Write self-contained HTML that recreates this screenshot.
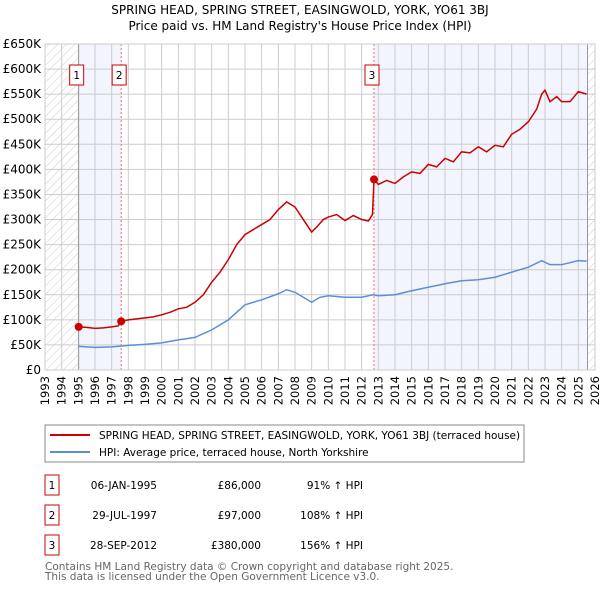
<!DOCTYPE html>
<html><head><meta charset="utf-8"><style>
body{margin:0;background:#fff;width:600px;height:590px;overflow:hidden;font-family:"DejaVu Sans","Liberation Sans",sans-serif}
svg text{font-family:"DejaVu Sans","Liberation Sans",sans-serif}
</style></head><body>
<svg id="chart" width="600" height="590">
<defs><pattern id="hatch" width="6" height="6" patternUnits="userSpaceOnUse" patternTransform="rotate(45)"><line x1="0" y1="0" x2="0" y2="6" stroke="#ccc" stroke-width="1"/></pattern></defs>
<text x="300" y="14" text-anchor="middle" font-size="12">SPRING HEAD, SPRING STREET, EASINGWOLD, YORK, YO61 3BJ</text>
<text x="300" y="30" text-anchor="middle" font-size="12">Price paid vs. HM Land Registry's House Price Index (HPI)</text>
<g id="plot"></g>
<rect x="45" y="425" width="479" height="37" fill="none" stroke="#888"/>
<line x1="50" y1="435" x2="90" y2="435" stroke="#cc0000" stroke-width="2"/>
<text x="99" y="439" font-size="10.5">SPRING HEAD, SPRING STREET, EASINGWOLD, YORK, YO61 3BJ (terraced house)</text>
<line x1="50" y1="452" x2="90" y2="452" stroke="#5b8fd4" stroke-width="2"/>
<text x="99" y="456" font-size="10.5">HPI: Average price, terraced house, North Yorkshire</text>
<g font-size="10.5">
<rect x="45" y="475" width="14" height="20" fill="#fff" stroke="#cc0000"/><text x="52" y="489" text-anchor="middle">1</text>
<text x="157" y="489" text-anchor="end">06-JAN-1995</text><text x="261" y="489" text-anchor="end">£86,000</text><text x="363" y="489" text-anchor="end">91% ↑ HPI</text>
<rect x="45" y="505" width="14" height="20" fill="#fff" stroke="#cc0000"/><text x="52" y="519" text-anchor="middle">2</text>
<text x="157" y="519" text-anchor="end">29-JUL-1997</text><text x="261" y="519" text-anchor="end">£97,000</text><text x="363" y="519" text-anchor="end">108% ↑ HPI</text>
<rect x="45" y="535" width="14" height="20" fill="#fff" stroke="#cc0000"/><text x="52" y="549" text-anchor="middle">3</text>
<text x="157" y="549" text-anchor="end">28-SEP-2012</text><text x="261" y="549" text-anchor="end">£380,000</text><text x="363" y="549" text-anchor="end">156% ↑ HPI</text>
</g>
<text x="45" y="570" font-size="10.5" fill="#666">Contains HM Land Registry data © Crown copyright and database right 2025.</text>
<text x="45" y="580" font-size="10.5" fill="#666">This data is licensed under the Open Government Licence v3.0.</text>
</svg>
<script>
const redYears=[1995.02,1995.5,1996,1996.5,1997,1997.4,1997.57,1998,1998.5,1999,1999.5,2000,2000.5,2001,2001.5,2002,2002.5,2003,2003.5,2004,2004.5,2005,2005.5,2006,2006.5,2007,2007.5,2008,2008.5,2009,2009.3,2009.7,2010,2010.5,2011,2011.5,2012,2012.4,2012.65,2012.74,2013,2013.5,2014,2014.5,2015,2015.5,2016,2016.5,2017,2017.5,2018,2018.5,2019,2019.5,2020,2020.5,2021,2021.5,2022,2022.5,2022.8,2023,2023.3,2023.7,2024,2024.5,2025,2025.5];
const redValues=[86,85,83,84,86,88,97,100,102,104,106,110,115,122,125,135,150,175,195,220,250,270,280,290,300,320,335,325,300,275,285,300,305,310,298,308,300,297,310,380,370,378,372,385,395,392,410,405,422,415,435,433,445,435,448,445,470,480,495,520,550,558,535,545,535,535,555,550];
const hpiYears=[1995,1996,1997,1998,1999,2000,2001,2002,2003,2004,2005,2006,2007,2007.5,2008,2009,2009.5,2010,2011,2012,2012.7,2013,2014,2015,2016,2017,2018,2019,2020,2021,2022,2022.8,2023.3,2024,2025,2025.5];
const hpiValues=[47,45,46,49,51,54,60,65,80,100,130,140,152,160,155,135,145,148,145,145,150,148,150,158,165,172,178,180,185,195,205,218,210,210,218,217];
const saleYears=[1995.02,1997.57,2012.74];
const saleValues=[86,97,380];
const saleLabels=["1","2","3"];
const yTicks=[0,50,100,150,200,250,300,350,400,450,500,550,600,650];
const yTickLabels=["£0","£50K","£100K","£150K","£200K","£250K","£300K","£350K","£400K","£450K","£500K","£550K","£600K","£650K"];
const xTicks=[1993,1994,1995,1996,1997,1998,1999,2000,2001,2002,2003,2004,2005,2006,2007,2008,2009,2010,2011,2012,2013,2014,2015,2016,2017,2018,2019,2020,2021,2022,2023,2024,2025,2026];
const NS="http://www.w3.org/2000/svg";
const L=45,R=595,T=44,B=370;
const X=y=>L+(y-1993)/(2026-1993)*(R-L);
const Y=v=>B-v/650*(B-T);
const g=document.getElementById('plot');
function mk(tag,attrs,parent){const e=document.createElementNS(NS,tag);for(const k in attrs)e.setAttribute(k,attrs[k]);(parent||g).appendChild(e);return e;}
let r;
r=mk('rect',{x:L,y:T,width:X(1995)-L,height:B-T,fill:'url(#hatch)'});


r=mk('rect',{x:X(2025.55),y:T,width:R-X(2025.55),height:B-T,fill:'url(#hatch)'});


r=mk('rect',{x:X(1995.02),y:T,width:X(1997.57)-X(1995.02),height:B-T,fill:'#f2f5fd'});


r=mk('rect',{x:X(2012.74),y:T,width:X(2025.55)-X(2012.74),height:B-T,fill:'#f2f5fd'});


yTicks.forEach((v,i)=>{
  const l=mk('line',{x1:L,x2:R,y1:Y(v),y2:Y(v),stroke:'#ccc','stroke-width':1});
  
  
  const t=mk('text',{x:L-4,y:Y(v)+4,'text-anchor':'end','font-size':12});
  t.textContent=yTickLabels[i];
  
  
});
xTicks.forEach(y=>{
  const l=mk('line',{x1:X(y),x2:X(y),y1:T,y2:B,stroke:'#ccc','stroke-width':1});
  
  
  const t=mk('text',{x:0,y:0,'text-anchor':'end','font-size':11.5,transform:`translate(${X(y)+4},${B+6}) rotate(-90)`});
  t.textContent=y;
  
  
});
r=mk('line',{x1:X(1995.02),x2:X(1995.02),y1:T,y2:B,stroke:'#999'});


r=mk('line',{x1:X(2025.55),x2:X(2025.55),y1:T,y2:B,stroke:'#999'});


saleYears.forEach((y,i)=>{
  if(i>0){const l=mk('line',{x1:X(y),x2:X(y),y1:T,y2:B,stroke:'#f66','stroke-dasharray':'2,2'});
  
  }
});
r=mk('rect',{x:L,y:T,width:R-L,height:B-T,fill:'none',stroke:'#ccc'});


const hp=mk('polyline',{points:hpiYears.map((y,i)=>X(y)+','+Y(hpiValues[i])).join(' '),fill:'none',stroke:'#5b8fd4','stroke-width':1.5});


const rp=mk('polyline',{points:redYears.map((y,i)=>X(y)+','+Y(redValues[i])).join(' '),fill:'none',stroke:'#cc0000','stroke-width':1.5});


saleYears.forEach((y,i)=>{
  const c=mk('circle',{cx:X(y),cy:Y(saleValues[i]),r:4,fill:'#cc0000'});
  
  
  const bx=X(y)-9;
  const b=mk('rect',{x:bx,y:65,width:14,height:20,fill:'#fff',stroke:'#cc0000'});
  
  
  const t=mk('text',{x:bx+7,y:79,'text-anchor':'middle','font-size':10.5});
  t.textContent=saleLabels[i];
  
  
});
</script>
</body></html>
